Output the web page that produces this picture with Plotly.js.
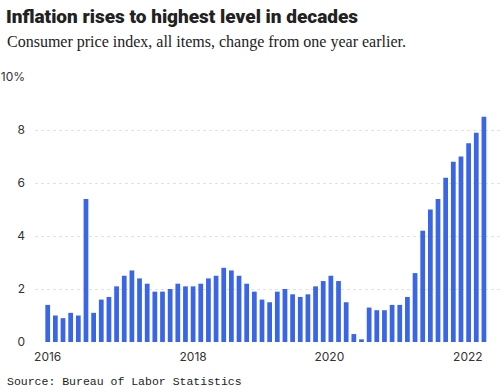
<!DOCTYPE html>
<html>
<head>
<meta charset="utf-8">
<script src="https://cdn.plot.ly/plotly-3.0.1.min.js"></script>
<style>html,body{margin:0;padding:0;background:#fff;}#chart{width:500px;height:392px;}</style>
</head>
<body>
<div id="chart"></div>
<script>
// Bar index (periods in order, left to right)
const periods = [];
for (let i = 0; i < 58; i++) periods.push(i);
// CPI change from one year earlier, %
const cpiChange = [
  1.4, 1.0, 0.9, 1.1, 1.0, 5.4, 1.1, 1.6, 1.7, 2.1,
  2.5, 2.7, 2.4, 2.2, 1.9, 1.9, 2.0, 2.2, 2.1, 2.1,
  2.2, 2.4, 2.5, 2.8, 2.7, 2.5, 2.2, 1.9, 1.6, 1.5,
  1.9, 2.0, 1.8, 1.7, 1.8, 2.1, 2.3, 2.5, 2.3, 1.5,
  0.3, 0.1, 1.3, 1.2, 1.2, 1.4, 1.4, 1.7, 2.6, 4.2,
  5.0, 5.4, 6.2, 6.8, 7.0, 7.5, 7.9, 8.5
];
// Year tick labels and where they fall along the bar index
const yearTickPos = [0, 19, 36.8, 54.9];
const yearTickText = ['2016', '2018', '2020', '2022'];
const yTickVals = [0, 2, 4, 6, 8, 10];
const yTickText = ['0', '2', '4', '6', '8', '10%'];

const trace = {
  type: 'bar',
  x: periods,
  y: cpiChange,
  marker: {color: '#3a66e6'},
  hoverinfo: 'y'
};

const px = v => (v - 35) / 465;
const py = v => (342 - v) / 265;

const layout = {
  width: 500, height: 392,
  margin: {l: 35, r: 0, t: 77, b: 50},
  paper_bgcolor: '#fff', plot_bgcolor: '#fff',
  bargap: 0.38,
  showlegend: false,
  font: {family: 'Inter, sans-serif', color: '#333', size: 12},
  xaxis: {
    range: [-1.66, 59.1],
    tickmode: 'array', tickvals: yearTickPos, ticktext: yearTickText,
    showgrid: false, zeroline: false, showline: false, ticks: '',
    ticklabelstandoff: 6,
    tickfont: {family: 'Inter, sans-serif', size: 12, color: '#333'},
    fixedrange: true
  },
  yaxis: {
    range: [0, 10],
    tickmode: 'array', tickvals: yTickVals, ticktext: yTickText,
    showgrid: true, gridcolor: '#e2e2e2', griddash: 'dot', gridwidth: 1,
    zeroline: false, showline: false, ticks: '',
    ticklabelstandoff: 9,
    tickfont: {family: 'Inter, sans-serif', size: 12, color: '#333'},
    fixedrange: true
  },
  annotations: [
    {
      text: 'Inflation rises to highest level in decades',
      xref: 'paper', yref: 'paper',
      x: px(4), y: py(16),
      xanchor: 'left', yanchor: 'middle', showarrow: false,
      font: {family: 'Roboto, sans-serif', size: 19, color: '#222', weight: 900}
    },
    {
      text: 'Consumer price index, all items, change from one year earlier.',
      xref: 'paper', yref: 'paper',
      x: px(5), y: py(42),
      xanchor: 'left', yanchor: 'middle', showarrow: false,
      font: {family: '"Liberation Serif", "DejaVu Serif", serif', size: 16, color: '#222'}
    },
    {
      text: 'Source: Bureau of Labor Statistics',
      xref: 'paper', yref: 'paper',
      x: px(5), y: py(381),
      xanchor: 'left', yanchor: 'middle', showarrow: false,
      font: {family: '"Liberation Mono", "DejaVu Sans Mono", monospace', size: 11.5, color: '#222'}
    }
  ]
};

Plotly.newPlot('chart', [trace], layout, {displayModeBar: false, staticPlot: true});
</script>
</body>
</html>
